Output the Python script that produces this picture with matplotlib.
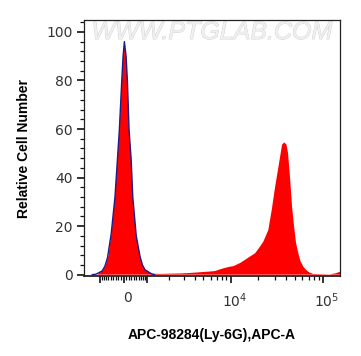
import numpy as np
import matplotlib
matplotlib.use("Agg")
import matplotlib.pyplot as plt
import matplotlib.patheffects as pe
from matplotlib.ticker import FixedLocator, FixedFormatter, MultipleLocator
from matplotlib.transforms import ScaledTranslation

plt.rcParams['font.family'] = ['Liberation Sans', 'DejaVu Sans']
plt.rcParams['mathtext.default'] = 'regular'

# ---- data (fluorescence intensity, relative cell number) ----
red_x = [-1670, -1100, -845, -720, -610, -470, -329, -230, -160, -68, -19, 30, 95, 145,
         210, 289, 357, 500, 669, 780, 910, 1186, 1547, 2035, 2711, 3534, 4585, 5930,
         6738, 7656, 8696, 9870, 10720, 12690, 14360, 16270, 18420, 20360, 22650, 25640,
         27920, 30320, 33480, 36070, 38200, 40330, 41880, 44020, 46270, 48620, 51100,
         54100, 57150, 61270, 65520, 70590, 77980, 92800, 119000, 138000, 152600]
red_y = [0, 0, 1.9, 4, 7.4, 17, 32, 48, 59.6, 80, 90, 95.6, 90, 80,
         59.6, 48, 32, 16, 7.4, 4, 2, 0.4, 0.3, 0.4, 0.5, 0.7, 1.0, 1.3,
         1.5, 2.2, 2.8, 3.3, 3.5, 4.8, 6.1, 7.5, 8.8, 11, 13.6, 18.4,
         26.7, 36, 45.9, 53.5, 54.5, 53.5, 50, 40, 28, 20, 13,
         8.8, 5.5, 3.3, 2, 1, 0.3, 0.2, 0.1, 0.6, 1.2]

blue_x = [-1300, -1150, -900, -760, -640, -480, -329, -230, -160, -68, -19, 30, 95, 145,
          210, 289, 357, 500, 669, 780, 910, 1186, 1300]
blue_y = [0, 0.2, 1.5, 3.5, 7, 17, 32, 48, 59.6, 80, 90, 96, 90, 80,
          59.6, 48, 32, 16, 7.4, 4, 2, 0.3, 0]

major_ticks = [-1000, 0, 1000, 1e4, 1e5]
major_labels = ['', '0', '', '$10^4$', '$10^5$']
minor_ticks = ([-v * 100 for v in range(1, 10)] + [v * 100 for v in range(1, 10)] +
               [v * 1000 for v in range(2, 10)] + [v * 10000 for v in range(2, 10)])

x_label = 'APC-98284(Ly-6G),APC-A'
y_label = 'Relative Cell Number'
watermark = 'WWW.PTGLAB.COM'

# ---- biexponential-like display scale ----
_G = np.arcsinh(np.array([-1e6, -1e5, -1e3, 0, 1e3, 1e4, 1e5, 1e6]) / 1000.0)
_P = np.array([-292, -199.5, -23.5, 0, 23.2, 107, 199.5, 292])


def fwd(x):
    return np.interp(np.arcsinh(np.asarray(x, dtype=float) / 1000.0), _G, _P)


def inv(p):
    return 1000.0 * np.sinh(np.interp(np.asarray(p, dtype=float), _P, _G))


fig = plt.figure(figsize=(3.61, 3.56), dpi=100)
ax = fig.add_axes([84 / 361, 1 - 276 / 356, 256 / 361, 256 / 356])
ax.set_xscale('function', functions=(fwd, inv))

ax.fill(red_x + [red_x[-1], red_x[0]], red_y + [0, 0], facecolor='#ff0000',
        edgecolor='none', lw=0, zorder=2)
ax.plot(blue_x, blue_y, color='#1c1c8a', lw=1.0, zorder=3)

ax.set_xlim(-1670, 152600)
ax.set_ylim(-0.55, 104.9)

ax.xaxis.set_major_locator(FixedLocator(major_ticks))
ax.xaxis.set_major_formatter(FixedFormatter(major_labels))
ax.xaxis.set_minor_locator(FixedLocator(minor_ticks))
ax.yaxis.set_major_locator(MultipleLocator(20))
ax.yaxis.set_minor_locator(MultipleLocator(4))

ax.tick_params(axis='both', which='major', direction='out', length=5, width=1.2,
               colors='#111111')
ax.tick_params(axis='both', which='minor', direction='out', length=3, width=0.9,
               colors='#111111')
ax.tick_params(axis='x', which='major', pad=6)
ax.tick_params(axis='y', which='major', pad=3)
for lab in ax.get_xticklabels() + ax.get_yticklabels():
    lab.set_fontfamily('DejaVu Sans')
    lab.set_fontsize(10)
    lab.set_color('#333333')
off = ScaledTranslation(4 / 100, 0, fig.dpi_scale_trans)
for lab in ax.get_xticklabels():
    lab.set_transform(lab.get_transform() + off)

for s in ax.spines.values():
    s.set_linewidth(0.9)
    s.set_color('#222222')
ax.spines['bottom'].set_linewidth(1.3)

ax.set_xlabel(x_label, fontsize=10, fontweight='bold', labelpad=13)
ax.set_ylabel(y_label, fontsize=10, fontweight='bold', labelpad=11)

ax.text(0.5, 0.953, watermark, transform=ax.transAxes, ha='center', va='center',
        fontsize=18, style='italic', color='#f0f0f0', zorder=1,
        path_effects=[pe.withStroke(linewidth=0.6, foreground='#d0d0d0')])

fig.savefig('out.png', dpi=100)
